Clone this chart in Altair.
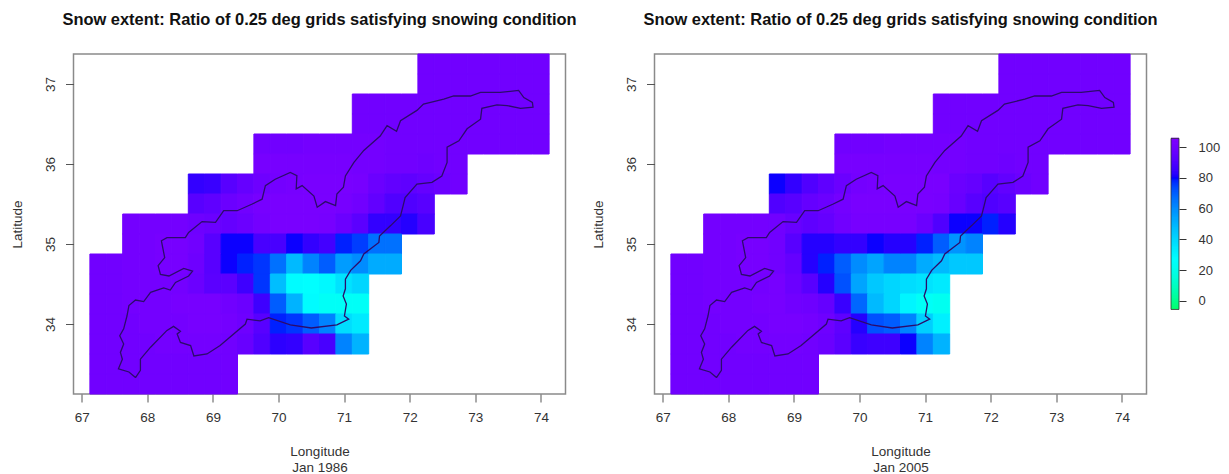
import altair as alt
import pandas as pd

TITLE = "Snow extent: Ratio of 0.25 deg grids satisfying snowing condition"
FONT = "Liberation Sans"

lon_ticks = [67, 68, 69, 70, 71, 72, 73, 74]
lat_ticks = [34, 35, 36, 37]
legend_ticks = [0, 20, 40, 60, 80, 100]

# first filled grid column of each row (row 0 is the northernmost)
first_col = [21, 21, 17, 17, 11, 11, 7, 7, 3, 3, 1, 1, 1, 1, 1, 1, 1]

# Jan 1986 ratios
a00 = [100, 100, 100, 100, 100, 100, 100, 100]
a01 = [100, 100, 100, 100, 100, 100, 100, 100]
a02 = [100, 100, 100, 100, 100, 100, 100, 100, 100, 100, 100, 100]
a03 = [100, 100, 100, 100, 100, 100, 100, 100, 100, 100, 100, 100]
a04 = [100, 100, 100, 101, 101, 101, 101, 101, 100, 100, 100, 100, 100, 100, 100, 100, 100, 100]
a05 = [102, 102, 102, 102, 102, 102, 101, 101, 100, 100, 99, 100, 100]
a06 = [84, 85, 92, 96, 99, 101, 102, 103, 103, 103, 102, 98, 95, 94, 96, 98, 100]
a07 = [92, 94, 98, 100, 102, 103, 103, 103, 103, 102, 100, 95, 90, 90, 92]
a08 = [101, 101, 101, 101, 99, 98, 96, 98, 101, 103, 103, 103, 102, 98, 93, 84, 84, 82, 88]
a09 = [101, 101, 102, 102, 100, 92, 80, 80, 88, 88, 80, 84, 87, 78, 75, 66, 66]
a10 = [100, 100, 101, 101, 102, 102, 99, 92, 80, 78, 76, 66, 48, 62, 70, 56, 60, 52, 52]
a11 = [100, 100, 101, 101, 101, 101, 98, 93, 93, 86, 76, 47, 28, 27, 29, 36, 40]
a12 = [100, 100, 101, 101, 101, 102, 102, 102, 100, 98, 86, 70, 50, 28, 24, 24, 24]
a13 = [100, 100, 100, 101, 101, 101, 102, 102, 101, 99, 92, 78, 76, 70, 62, 38, 34]
a14 = [100, 100, 100, 100, 101, 101, 101, 101, 100, 97, 90, 83, 84, 92, 88, 62, 50]
a15 = [100, 100, 100, 100, 100, 100, 100, 100, 100]
a16 = [100, 100, 100, 100, 100, 100, 100, 100, 100]

# Jan 2005 ratios
b06 = [80, 84, 90, 94, 98, 101, 102, 103, 103, 103, 103, 98, 96, 92, 95, 98, 100]
b07 = [90, 92, 96, 98, 101, 103, 103, 103, 103, 103, 102, 97, 92, 90, 92]
b08 = [101, 101, 101, 101, 100, 97, 94, 96, 100, 102, 102, 102, 102, 98, 90, 80, 80, 78, 82]
b09 = [101, 101, 102, 102, 100, 92, 82, 82, 84, 84, 80, 82, 82, 78, 70, 58, 62]
b10 = [100, 100, 101, 101, 102, 102, 100, 96, 82, 78, 70, 60, 54, 62, 62, 52, 48, 44, 44]
b11 = [100, 100, 101, 101, 101, 101, 102, 98, 92, 82, 72, 54, 44, 40, 38, 36, 34]
b12 = [100, 100, 101, 101, 101, 102, 102, 100, 99, 96, 85, 68, 48, 40, 30, 24, 22]
b13 = [100, 100, 100, 101, 101, 101, 102, 102, 101, 99, 94, 82, 72, 70, 62, 42, 32]
b14 = [100, 100, 100, 100, 101, 101, 101, 101, 100, 98, 93, 85, 86, 86, 80, 62, 50]

rows_1986 = [a00, a01, a02, a03, a04, a05, a06, a07, a08, a09, a10, a11, a12, a13, a14, a15, a16]
rows_2005 = [a00, a01, a02, a03, a04, a05, b06, b07, b08, b09, b10, b11, b12, b13, b14, a15, a16]

# basin outline
basin_lon = [67.82, 67.72, 67.56, 67.62, 67.59, 67.64, 67.58, 67.64, 67.69, 67.72, 67.82, 67.945,
             68.05, 68.25, 68.35, 68.43, 68.63, 68.69, 68.555, 68.33, 68.20, 68.165, 68.265, 68.215,
             68.30, 68.58, 68.63, 68.835, 69.04, 69.165, 69.37, 69.60, 69.75, 69.80, 69.95, 70.18,
             70.28, 70.27, 70.36, 70.54, 70.59, 70.715, 70.87, 70.89, 70.99, 71.02, 71.15, 71.30,
             71.55, 71.655, 71.80, 71.86, 72.11, 72.21, 72.52, 72.67, 72.925, 73.08, 73.38, 73.66,
             73.74, 73.87, 73.88, 73.69, 73.485, 73.33, 73.10, 73.08, 72.875, 72.75, 72.57, 72.57,
             72.49, 72.34, 72.11, 71.93, 71.90, 71.86, 71.71, 71.54, 71.53, 71.30, 71.25, 71.10,
             71.02, 71.02, 70.985, 71.035, 71.005, 71.07, 70.89, 70.50, 70.18, 69.85, 69.72, 69.52,
             69.495, 69.11, 68.91, 68.71, 68.66, 68.505, 68.455, 68.505, 68.40, 68.30, 68.05, 67.895,
             67.895, 67.82]
basin_lat = [33.33, 33.40, 33.44, 33.56, 33.645, 33.75, 33.854, 33.94, 34.10, 34.23, 34.30, 34.28,
             34.395, 34.45, 34.425, 34.52, 34.60, 34.66, 34.695, 34.60, 34.62, 34.73, 34.83, 35.04,
             35.08, 35.08, 35.145, 35.28, 35.27, 35.416, 35.416, 35.50, 35.56, 35.73, 35.81, 35.895,
             35.854, 35.69, 35.73, 35.60, 35.46, 35.53, 35.48, 35.625, 35.71, 35.85, 36.02, 36.17,
             36.35, 36.48, 36.41, 36.54, 36.67, 36.75, 36.81, 36.85, 36.85, 36.895, 36.895, 36.92,
             36.83, 36.77, 36.71, 36.695, 36.73, 36.74, 36.695, 36.56, 36.44, 36.29, 36.21, 36.02,
             35.85, 35.77, 35.75, 35.58, 35.48, 35.35, 35.23, 35.10, 35.02, 34.875, 34.79, 34.67,
             34.56, 34.44, 34.35, 34.25, 34.10, 34.06, 33.99, 33.95, 33.99, 34.08, 34.04, 34.06,
             34.00, 33.73, 33.625, 33.60, 33.73, 33.77, 33.875, 33.91, 33.97, 33.92, 33.71, 33.56,
             33.42, 33.33]

LON0, LON1 = 66.875, 74.375
LAT0, LAT1 = 33.125, 37.375
STEP = 0.25

color_scale = alt.Scale(
    domain=[-5.2, 27.1, 79.5, 105.6],
    range=["#00ff6e", "#00ffff", "#0000ff", "#8000ff"],
)
x_scale = alt.Scale(domain=[LON0, LON1], nice=False, zero=False)
y_scale = alt.Scale(domain=[LAT0, LAT1], nice=False, zero=False)


def cells(rows):
    out = []
    for j, (start, vals) in enumerate(zip(first_col, rows)):
        for k, v in enumerate(vals):
            c = start + k
            out.append({
                "lon0": LON0 + STEP * c, "lon1": LON0 + STEP * (c + 1),
                "lat1": LAT1 - STEP * j, "lat0": LAT1 - STEP * (j + 1),
                "v": v,
            })
    return pd.DataFrame(out)


outline = pd.DataFrame({"lon": basin_lon, "lat": basin_lat, "o": range(len(basin_lon))})


def panel(rows, month):
    rects = alt.Chart(cells(rows)).mark_rect(strokeWidth=1).encode(
        x=alt.X("lon0:Q", scale=x_scale, axis=alt.Axis(
            values=lon_ticks, title=["Longitude", month], grid=False, domain=False,
            tickSize=8, tickColor="#555555", tickWidth=1, format="d",
            labelPadding=8, labelFontSize=13.5, labelColor="#333333", labelFont=FONT,
            titleFont=FONT, titleFontSize=13.5, titleFontWeight="normal", titleColor="#333333",
            titlePadding=21, titleLineHeight=15.5)),
        x2="lon1:Q",
        y=alt.Y("lat0:Q", scale=y_scale, axis=alt.Axis(
            values=lat_ticks, title="Latitude", grid=False, domain=False,
            tickSize=8, tickColor="#555555", tickWidth=1, format="d",
            labelAngle=270, labelAlign="center", labelBaseline="middle",
            labelPadding=15.5, labelFontSize=13.5, labelColor="#333333", labelFont=FONT,
            titleFont=FONT, titleFontSize=13.5, titleFontWeight="normal", titleColor="#333333",
            titlePadding=19)),
        y2="lat1:Q",
        color=alt.Color("v:Q", scale=color_scale, legend=None),
        stroke=alt.Stroke("v:Q", scale=color_scale, legend=None),
    )
    line = alt.Chart(outline).mark_line(color="#2d0b6b", strokeWidth=1.3, clip=True).encode(
        x=alt.X("lon:Q", scale=x_scale),
        y=alt.Y("lat:Q", scale=y_scale),
        order="o:Q",
    )
    return alt.layer(rects, line).properties(
        width=492, height=340,
        title=alt.TitleParams(TITLE, font=FONT, fontSize=16.45, fontWeight="bold", color="#111111",
                              anchor="middle", offset=25),
    )


# colour bar
bar_levels = [x / 2 for x in range(-11, 211)]
bar_df = pd.DataFrame({"v": bar_levels, "v2": [x + 1 for x in bar_levels]})
bar_y = alt.Scale(domain=[-60.4, 160.4], nice=False, zero=False)
bar_fill = alt.Chart(bar_df).mark_rect().encode(
    x=alt.value(0), x2=alt.value(8),
    y=alt.Y("v:Q", scale=bar_y, axis=alt.Axis(
        orient="right", values=legend_ticks, title=None, grid=False, domain=False,
        tickSize=7, tickColor="#333333", labelPadding=12, labelFontSize=13, labelColor="#333333",
        labelFont=FONT)),
    y2="v2:Q",
    color=alt.Color("v:Q", scale=color_scale, legend=None),
)
bar_frame = alt.Chart(pd.DataFrame({"lo": [-5.5], "hi": [105.6]})).mark_rect(
    fillOpacity=0, stroke="#333333", strokeWidth=0.8).encode(
    x=alt.value(0), x2=alt.value(8),
    y=alt.Y("lo:Q", scale=bar_y),
    y2="hi:Q",
)
bar = alt.layer(bar_fill, bar_frame).properties(
    width=8, height=340, view=alt.ViewConfig(strokeOpacity=0))

spacer = alt.Chart(pd.DataFrame({"v": [0]})).mark_point(opacity=0).encode(
    x=alt.X("v:Q", axis=None), y=alt.Y("v:Q", axis=None),
).properties(width=40, height=340, view=alt.ViewConfig(strokeOpacity=0))

chart = alt.hconcat(panel(rows_1986, "Jan 1986"), spacer, panel(rows_2005, "Jan 2005"), bar,
                    spacing=24.5, bounds="flush").resolve_scale(color="independent").properties(
    padding={"left": 0.5, "top": 3, "right": 0, "bottom": 0},
    background="white",
).configure_view(stroke="#8a8a8a", strokeWidth=1.5)

chart.save("out.html", embed_options={"renderer": "svg", "actions": False})
